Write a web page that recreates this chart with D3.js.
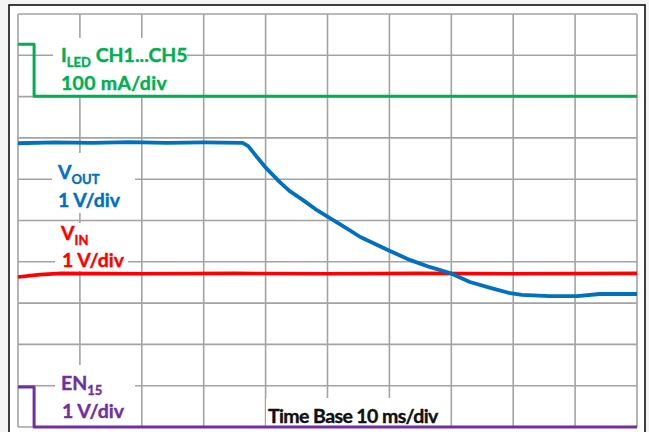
<!DOCTYPE html>
<html>
<head>
<meta charset="utf-8">
<script src="https://cdn.jsdelivr.net/npm/d3@7"></script>
<style>
  body { margin: 0; background: #ffffff; }
  svg { display: block; }
</style>
</head>
<body>
<svg id="drawing_region"></svg>
<script>
// time in ms (10 ms/div), level in divisions counted up from the bottom gridline
const iledTime = [0, 2.6, 2.6, 100];
const iledDiv  = [9.27, 9.27, 8.01, 8.01];

const voutTime = [0, 6, 12, 18, 24, 30, 36.3, 37.2, 38.1, 39.9, 42.3, 43.9, 46.0, 48.3, 50.4, 53.3, 55.3, 60.1, 63.4, 66.6, 69.8, 73.0, 76.3, 79.5, 81.4, 85.9, 90.3, 94.0, 100];
const voutDiv  = [6.87, 6.89, 6.88, 6.90, 6.88, 6.89, 6.88, 6.80, 6.63, 6.30, 5.93, 5.71, 5.50, 5.25, 5.06, 4.79, 4.60, 4.26, 4.04, 3.87, 3.73, 3.51, 3.37, 3.24, 3.20, 3.17, 3.17, 3.22, 3.22];

const vinTime = [0, 3.5, 7, 20, 35, 50, 65, 80, 100];
const vinDiv  = [3.63, 3.69, 3.72, 3.71, 3.72, 3.71, 3.72, 3.71, 3.72];

const enTime = [0, 2.6, 2.6, 100];
const enDiv  = [0.97, 0.97, 0, 0];

const labelLines = [
    { color: '#00b050', main: 'I', sub: 'LED', rest: ' CH1...CH5', x: 61, y: 62, sp: 0, box: [53, 38, 187, 95] },
    { color: '#00b050', main: '100 mA/div', sub: '', rest: '', x: 61, y: 90, sp: 0.3, box: null },
    { color: '#0070c0', main: 'V', sub: 'OUT', rest: '', x: 58, y: 179, sp: 0, box: [52, 153, 135, 213] },
    { color: '#0070c0', main: '1 V/div', sub: '', rest: '', x: 58, y: 207, sp: 0, box: null },
    { color: '#ff0000', main: 'V', sub: 'IN', rest: '', x: 61, y: 240, sp: 0, box: [55, 223, 128, 271] },
    { color: '#ff0000', main: '1 V/div', sub: '', rest: '', x: 62, y: 267, sp: 0, box: null },
    { color: '#7030a0', main: 'EN', sub: '15', rest: '', x: 61, y: 390, sp: 0, box: [55, 365, 135, 427] },
    { color: '#7030a0', main: '1 V/div', sub: '', rest: '', x: 62, y: 418, sp: 0, box: null },
    { color: '#111111', main: 'Time Base 10 ms/div', sub: '', rest: '', x: 268, y: 423, sp: -0.6, box: [266, 398, 440, 427] }
];

class ScopeChart {

    constructor( config ) {
        this.config = {
            parent: config.parent,
            width: config.width || 649,
            height: config.height || 432,
            left: 18, right: 637, top: 14, bottom: 427
        };
        this.traces = [
            { t: iledTime, v: iledDiv, color: '#00b050', w: 3 },
            { t: vinTime,  v: vinDiv,  color: '#ff0000', w: 3.6 },
            { t: voutTime, v: voutDiv, color: '#0070c0', w: 3.8 },
            { t: enTime,   v: enDiv,   color: '#7030a0', w: 3 }
        ];
        this.init();
    }

    init() {
        let self = this;
        const c = self.config;

        self.svg = d3.select( c.parent )
            .attr('width', c.width)
            .attr('height', c.height);

        self.xscale = d3.scaleLinear().domain([0, 100]).range([c.left, c.right]);
        self.yscale = d3.scaleLinear().domain([0, 10]).range([c.bottom, c.top]);

        self.line = d3.line()
            .x( d => self.xscale(d[0]) )
            .y( d => self.yscale(d[1]) );
    }

    render() {
        let self = this;
        const c = self.config;

        // soft gray margin outside the frame
        self.svg.append('rect')
            .attr('width', c.width).attr('height', c.height)
            .attr('fill', '#f4f4f4');
        self.svg.append('rect')
            .attr('x', 9).attr('y', 5)
            .attr('width', 636).attr('height', 440)
            .attr('fill', 'white')
            .attr('stroke', '#111')
            .attr('stroke-width', 1.6);

        // grid
        const grid = self.svg.append('g');
        grid.selectAll('.vline')
            .data( self.xscale.ticks(10) )
            .enter().append('line')
            .attr('x1', d => self.xscale(d)).attr('x2', d => self.xscale(d))
            .attr('y1', c.top).attr('y2', c.bottom)
            .attr('stroke', '#a3a3a3').attr('stroke-width', 1.6);
        grid.selectAll('.hline')
            .data( self.yscale.ticks(10) )
            .enter().append('line')
            .attr('y1', d => self.yscale(d)).attr('y2', d => self.yscale(d))
            .attr('x1', c.left).attr('x2', c.right)
            .attr('stroke', '#a3a3a3').attr('stroke-width', 1.6);

        // white boxes behind labels
        self.svg.selectAll('.box')
            .data( labelLines.filter( d => d.box ) )
            .enter().append('rect')
            .attr('x', d => d.box[0]).attr('y', d => d.box[1])
            .attr('width', d => d.box[2] - d.box[0])
            .attr('height', d => d.box[3] - d.box[1])
            .attr('fill', 'white');

        // traces
        self.svg.selectAll('.trace')
            .data( self.traces )
            .enter().append('path')
            .attr('d', d => self.line( d.t.map( (t, i) => [t, d.v[i]] ) ))
            .attr('fill', 'none')
            .attr('stroke', d => d.color)
            .attr('stroke-width', d => d.w)
            .attr('stroke-linejoin', 'round');

        // labels
        const txt = self.svg.selectAll('.label')
            .data( labelLines )
            .enter().append('text')
            .attr('x', d => d.x).attr('y', d => d.y)
            .attr('fill', d => d.color)
            .attr('stroke', d => d.color)
            .attr('stroke-width', 0.4)
            .style('letter-spacing', d => d.sp + 'px')
            .style('font-family', 'Lato, "Open Sans", sans-serif')
            .style('font-weight', 700)
            .style('font-size', '19.5px');
        txt.append('tspan').text( d => d.main );
        txt.filter( d => d.sub ).append('tspan')
            .attr('dy', 5)
            .style('font-size', '13px')
            .text( d => d.sub );
        txt.filter( d => d.rest ).append('tspan')
            .attr('dy', -5)
            .text( d => d.rest );
    }
}

const chart = new ScopeChart({ parent: '#drawing_region', width: 649, height: 432 });
chart.render();
</script>
</body>
</html>
